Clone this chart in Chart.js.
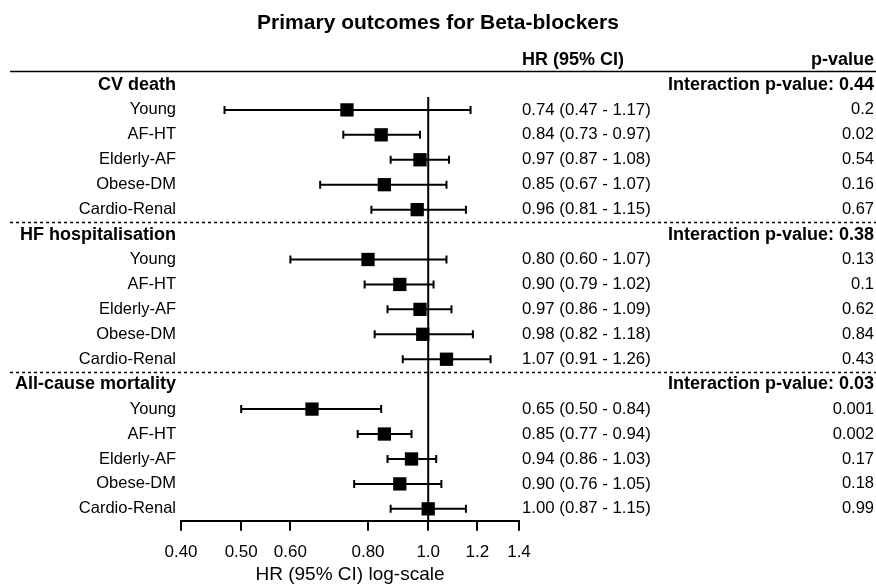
<!DOCTYPE html>
<html>
<head>
<meta charset="utf-8">
<script src="https://cdn.jsdelivr.net/npm/chart.js@4"></script>
<style>
  body { margin: 0; background: #fff; }
  #wrap { width: 876px; height: 586px; }
</style>
</head>
<body>
<div id="wrap"><canvas id="forest" width="876" height="586"></canvas></div>
<script>
const groupNames = ['CV death', 'HF hospitalisation', 'All-cause mortality'];
const interactionP = ['0.44', '0.38', '0.03'];
const subgroups = ['Young', 'AF-HT', 'Elderly-AF', 'Obese-DM', 'Cardio-Renal'];
const hr = [
    [0.74, 0.84, 0.97, 0.85, 0.96],
    [0.80, 0.90, 0.97, 0.98, 1.07],
    [0.65, 0.85, 0.94, 0.90, 1.00]
];
const ciLow = [
    [0.47, 0.73, 0.87, 0.67, 0.81],
    [0.60, 0.79, 0.86, 0.82, 0.91],
    [0.50, 0.77, 0.86, 0.76, 0.87]
];
const ciHigh = [
    [1.17, 0.97, 1.08, 1.07, 1.15],
    [1.07, 1.02, 1.09, 1.18, 1.26],
    [0.84, 0.94, 1.03, 1.05, 1.15]
];
const pValues = [
    ['0.2', '0.02', '0.54', '0.16', '0.67'],
    ['0.13', '0.1', '0.62', '0.84', '0.43'],
    ['0.001', '0.002', '0.17', '0.18', '0.99']
];
const tickValues = [0.4, 0.5, 0.6, 0.8, 1.0, 1.2, 1.4];
const tickLabels = ['0.40', '0.50', '0.60', '0.80', '1.0', '1.2', '1.4'];

const FONT = "'Liberation Sans', Arial, sans-serif";
Chart.defaults.font.family = FONT;
Chart.defaults.color = '#000';

// one row per group header + 5 subgroup rows
const points = [];
groupNames.forEach(function (g, gi) {
    subgroups.forEach(function (s, si) {
        points.push({ x: hr[gi][si], y: gi * 6 + 1 + si, lo: ciLow[gi][si], hi: ciHigh[gi][si] });
    });
});

const forestPlugin = {
    id: 'forest',
    beforeDatasetsDraw: function (chart) {
        const ctx = chart.ctx;
        const xs = chart.scales.x, ys = chart.scales.y;
        ctx.save();
        ctx.strokeStyle = '#000';
        // reference line at HR = 1
        ctx.lineWidth = 2;
        ctx.beginPath();
        ctx.moveTo(xs.getPixelForValue(1), ys.getPixelForValue(0.48));
        ctx.lineTo(xs.getPixelForValue(1), chart.chartArea.bottom);
        ctx.stroke();
        // CI whiskers
        points.forEach(function (p) {
            const y = ys.getPixelForValue(p.y);
            const x1 = xs.getPixelForValue(p.lo), x2 = xs.getPixelForValue(p.hi);
            ctx.beginPath();
            ctx.moveTo(x1, y); ctx.lineTo(x2, y);
            ctx.moveTo(x1, y - 4); ctx.lineTo(x1, y + 4);
            ctx.moveTo(x2, y - 4); ctx.lineTo(x2, y + 4);
            ctx.stroke();
        });
        ctx.restore();
    },
    afterDraw: function (chart) {
        const ctx = chart.ctx;
        const ys = chart.scales.y;
        const W = chart.width;
        ctx.save();
        ctx.fillStyle = '#000';
        ctx.strokeStyle = '#000';
        ctx.textBaseline = 'middle';

        // column headers
        const yHead = ys.getPixelForValue(-1);
        ctx.font = 'bold 18px ' + FONT;
        ctx.textAlign = 'left';
        ctx.fillText('HR (95% CI)', 522, yHead);
        ctx.textAlign = 'right';
        ctx.fillText('p-value', 874, yHead);

        ctx.lineWidth = 1.5;
        ctx.beginPath();
        ctx.moveTo(10, 71.5); ctx.lineTo(W, 71.5);
        ctx.stroke();

        groupNames.forEach(function (g, gi) {
            const yg = ys.getPixelForValue(gi * 6);
            ctx.font = 'bold 18px ' + FONT;
            ctx.textAlign = 'right';
            ctx.fillText(g, 176, yg);
            ctx.fillText('Interaction p-value: ' + interactionP[gi], 874, yg);

            subgroups.forEach(function (s, si) {
                const y = ys.getPixelForValue(gi * 6 + 1 + si);
                ctx.font = '16.5px ' + FONT;
                ctx.textAlign = 'right';
                ctx.fillText(s, 176, y);
                ctx.fillText(pValues[gi][si], 874, y);
                ctx.textAlign = 'left';
                ctx.font = '16.8px ' + FONT;
                ctx.fillText(hr[gi][si].toFixed(2) + ' (' + ciLow[gi][si].toFixed(2) + ' - ' + ciHigh[gi][si].toFixed(2) + ')', 522, y);
            });

            if (gi < groupNames.length - 1) {
                const yd = Math.round(ys.getPixelForValue(gi * 6 + 5.5)) + 0.5;
                ctx.setLineDash([3, 3]);
                ctx.lineWidth = 1.5;
                ctx.beginPath();
                ctx.moveTo(10, yd); ctx.lineTo(W, yd);
                ctx.stroke();
                ctx.setLineDash([]);
            }
        });
        ctx.restore();
    }
};

// invisible side axes reserve room for the text columns
function spacer(width) {
    return function (scale) { scale.width = width; };
}

new Chart(document.getElementById('forest'), {
    type: 'scatter',
    data: {
        datasets: [{
            data: points,
            pointStyle: 'rect',
            radius: 9.4,
            hoverRadius: 9.4,
            backgroundColor: '#000',
            borderWidth: 0,
            clip: false
        }]
    },
    options: {
        responsive: false,
        animation: false,
        layout: { padding: 0 },
        plugins: {
            legend: { display: false },
            tooltip: { enabled: false },
            title: {
                display: true,
                text: 'Primary outcomes for Beta-blockers',
                color: '#000',
                font: { size: 21, weight: 'bold' },
                padding: { top: 11, bottom: 35.8 }
            }
        },
        scales: {
            x: {
                type: 'logarithmic',
                min: 0.4,
                max: 1.4,
                afterBuildTicks: function (scale) {
                    scale.ticks = tickValues.map(function (v) { return { value: v }; });
                },
                ticks: {
                    autoSkip: false,
                    maxRotation: 0,
                    padding: 11,
                    color: '#000',
                    font: { size: 17 },
                    callback: function (value, index) { return tickLabels[index]; }
                },
                grid: {
                    drawOnChartArea: false,
                    drawTicks: true,
                    tickLength: 10,
                    color: '#000',
                    lineWidth: 2
                },
                border: { display: true, color: '#000', width: 2 },
                title: {
                    display: true,
                    text: 'HR (95% CI) log-scale',
                    color: '#000',
                    font: { size: 19 },
                    padding: { top: -10, bottom: 0 }
                }
            },
            y: {
                type: 'linear',
                position: 'left',
                reverse: true,
                min: -0.52,
                max: 17.48,
                afterFit: spacer(181),
                ticks: { display: false },
                grid: { display: false },
                border: { display: false }
            },
            y2: {
                type: 'linear',
                position: 'right',
                afterFit: spacer(357),
                ticks: { display: false },
                grid: { display: false },
                border: { display: false }
            }
        }
    },
    plugins: [forestPlugin]
});
</script>
</body>
</html>
